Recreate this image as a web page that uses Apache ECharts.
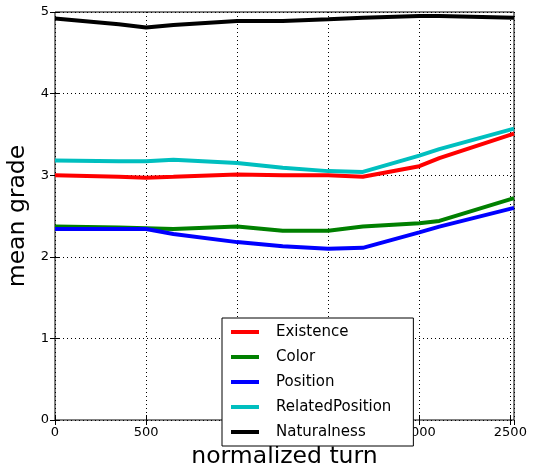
<!DOCTYPE html>
<html>
<head>
<meta charset="utf-8">
<script src="https://cdn.jsdelivr.net/npm/echarts@6/dist/echarts.min.js"></script>
<style>
  html, body { margin: 0; padding: 0; background: #fff; }
  #chart { width: 537px; height: 468px; }
</style>
</head>
<body>
<div id="chart"></div>
<script>
// normalized turn
var turns = [0, 350, 500, 650, 1000, 1250, 1500, 1690, 2000, 2110, 2520];
var names = ['Existence', 'Color', 'Position', 'RelatedPosition', 'Naturalness'];
var colors = ['#ff0000', '#008000', '#0000ff', '#00bfbf', '#000000'];

var existence      = [3.00, 2.98, 2.97, 2.98, 3.01, 3.00, 3.00, 2.98, 3.11, 3.21, 3.51];
var color          = [2.37, 2.36, 2.35, 2.34, 2.37, 2.32, 2.32, 2.37, 2.41, 2.44, 2.72];
var position       = [2.34, 2.34, 2.34, 2.28, 2.18, 2.13, 2.10, 2.11, 2.30, 2.37, 2.60];
var relatedPos     = [3.18, 3.17, 3.17, 3.19, 3.15, 3.09, 3.05, 3.04, 3.24, 3.32, 3.57];
var naturalness    = [4.92, 4.85, 4.81, 4.84, 4.89, 4.89, 4.91, 4.93, 4.95, 4.95, 4.93];

var allData = [existence, color, position, relatedPos, naturalness];

function pairs(arr) {
  return arr.map(function (v, i) { return [turns[i], v]; });
}

var font = 'DejaVu Sans';
var dotted = { show: true, lineStyle: { color: '#000', type: [1, 3], width: 1 } };

var option = {
  animation: false,
  textStyle: { fontFamily: font },
  grid: {
    left: 55, right: 23, top: 12, bottom: 48,
    outerBoundsMode: 'none', containLabel: false,
    show: true, borderColor: '#000', borderWidth: 1, backgroundColor: '#fff'
  },
  legend: {
    data: names,
    orient: 'vertical',
    left: 222, top: 318,
    backgroundColor: '#fff',
    borderColor: '#000', borderWidth: 1,
    padding: [5, 22, 5, 9],
    itemWidth: 28, itemHeight: 4,
    itemGap: 7,
    icon: 'rect',
    z: 10,
    textStyle: { fontFamily: font, fontSize: 15, color: '#000', padding: [0, 0, 0, 12], lineHeight: 18 }
  },
  xAxis: [
    {
      type: 'value', min: 0, max: 2520, interval: 500,
      name: 'normalized turn', nameLocation: 'middle', nameGap: 25,
      nameTextStyle: { fontFamily: font, fontSize: 23.5, color: '#000' },
      axisLine: { show: false },
      axisTick: { show: true, inside: true, length: 5, lineStyle: { color: '#000' } },
      axisLabel: { color: '#000', fontSize: 13, fontFamily: font, margin: 6, showMaxLabel: false,
                   formatter: function (v) { return String(v); } },
      splitLine: dotted
    },
    {
      type: 'value', min: 0, max: 2520, interval: 500, position: 'top',
      axisLine: { show: false },
      axisTick: { show: true, inside: true, length: 5, lineStyle: { color: '#000' } },
      axisLabel: { show: false },
      splitLine: { show: false }
    }
  ],
  yAxis: [
    {
      type: 'value', min: 0, max: 5, interval: 1,
      name: 'mean grade', nameLocation: 'middle', nameGap: 22,
      nameTextStyle: { fontFamily: font, fontSize: 23.5, color: '#000' },
      axisLine: { show: false },
      axisTick: { show: true, inside: true, length: 5, lineStyle: { color: '#000' } },
      axisLabel: { color: '#000', fontSize: 13, fontFamily: font, margin: 6 },
      splitLine: dotted
    },
    {
      type: 'value', min: 0, max: 5, interval: 1, position: 'right',
      axisLine: { show: false },
      axisTick: { show: true, inside: true, length: 5, lineStyle: { color: '#000' } },
      axisLabel: { show: false },
      splitLine: { show: false }
    }
  ],
  series: names.map(function (n, i) {
    return {
      name: n,
      type: 'line',
      data: pairs(allData[i]),
      showSymbol: false,
      symbol: 'none',
      color: colors[i],
      lineStyle: { width: 4, color: colors[i] },
      z: 2 + i
    };
  })
};

echarts.init(document.getElementById('chart')).setOption(option);
</script>
</body>
</html>
